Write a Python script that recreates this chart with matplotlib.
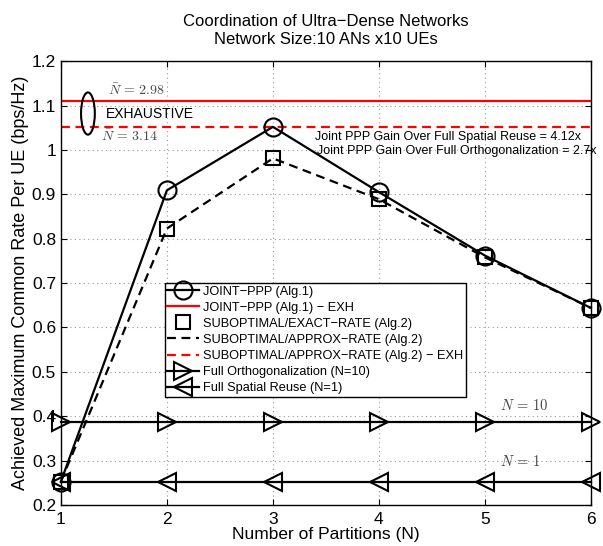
import numpy as np
import matplotlib
matplotlib.use("Agg")
import matplotlib.pyplot as plt
from matplotlib.patches import Ellipse
from matplotlib.ticker import FuncFormatter

plt.rcParams['font.family'] = ['Liberation Sans', 'DejaVu Sans']
plt.rcParams['mathtext.fontset'] = 'cm'

# rates per UE (bps/Hz) against number of partitions
partitions = [1, 2, 3, 4, 5, 6]
joint_ppp = [0.253, 0.909, 1.052, 0.905, 0.762, 0.644]
exact_rate = [0.253, 0.823, 0.981, 0.889, 0.758, 0.644]
approx_rate = [0.253, 0.823, 0.981, 0.889, 0.758, 0.644]
joint_exh = 1.11
approx_exh = 1.052
full_orth = 0.388
full_reuse = 0.253

y_ticks = [0.2, 0.3, 0.4, 0.5, 0.6, 0.7, 0.8, 0.9, 1.0, 1.1, 1.2]

M = u"\u2212"

fig = plt.figure(figsize=(6.03, 5.46), dpi=100)
ax = fig.add_axes([0.101, 0.075, 0.879, 0.813])

x = np.array(partitions)
lw = 1.6

ax.axhline(joint_exh, color='red', lw=lw, label="JOINT" + M + "PPP (Alg.1) " + M + " EXH", zorder=2)
ax.axhline(approx_exh, color='red', lw=lw, ls=(0, (4, 2.5)),
           label="SUBOPTIMAL/APPROX" + M + "RATE (Alg.2) " + M + " EXH", zorder=2)

ax.plot(x, joint_ppp, color='black', lw=lw, marker='o', ms=13, mfc='none', mew=1.5,
        label="JOINT" + M + "PPP (Alg.1)", zorder=4, clip_on=False)
ax.plot(x, exact_rate, ls='none', color='black', marker='s', ms=10, mfc='none', mew=1.5,
        label="SUBOPTIMAL/EXACT" + M + "RATE (Alg.2)", zorder=4, clip_on=False)
ax.plot(x, approx_rate, color='black', lw=lw, ls=(0, (4, 2.5)),
        label="SUBOPTIMAL/APPROX" + M + "RATE (Alg.2)", zorder=3)
ax.plot(x, [full_orth] * len(x), color='black', lw=lw, marker='>', ms=13, mfc='none', mew=1.5,
        label="Full Orthogonalization (N=10)", zorder=3, clip_on=False)
ax.plot(x, [full_reuse] * len(x), color='black', lw=lw, marker='<', ms=13, mfc='none', mew=1.5,
        label="Full Spatial Reuse (N=1)", zorder=3, clip_on=False)

hs, ls = ax.get_legend_handles_labels()
order = [2, 0, 3, 4, 1, 5, 6]
leg = ax.legend([hs[i] for i in order], [ls[i] for i in order], loc='upper left',
                bbox_to_anchor=(0.196, 0.5), borderaxespad=0, fontsize=9.2,
                fancybox=False, framealpha=1, edgecolor='black', handlelength=2.5,
                labelspacing=0.32, borderpad=0.2, handletextpad=0.3)
leg.get_frame().set_linewidth(1.0)
leg.set_zorder(6)

# exhaustive-search annotations
ax.add_patch(Ellipse((1.255, 1.082), 0.13, 0.095, fill=False, ec='black', lw=1.5, zorder=5))
ax.text(1.42, 1.082, "EXHAUSTIVE", fontsize=10, va='center', ha='left')
ax.text(1.44, 1.135, r"$\bar{N}\,=\,2.98$", fontsize=10, color='#444444', va='center')
ax.text(1.38, 1.030, r"$\bar{N}\,=\,3.14$", fontsize=10, color='#444444', va='center')
ax.text(3.40, 1.030, "Joint PPP Gain Over Full Spatial Reuse = 4.12x", fontsize=9, va='center')
ax.text(3.42, 0.998, "Joint PPP Gain Over Full Orthogonalization = 2.7x", fontsize=9, va='center')
ax.text(5.14, 0.425, r"$N\,=\,10$", fontsize=10.5, color='#444444', va='center')
ax.text(5.14, 0.297, r"$N\,=\,1$", fontsize=10.5, color='#444444', va='center')

ax.set_xlim(1, 6)
ax.set_ylim(0.2, 1.2)
ax.set_xticks(partitions)
ax.set_yticks(y_ticks)
ax.yaxis.set_major_formatter(FuncFormatter(lambda v, p: ("%g" % round(v, 1))))
ax.tick_params(direction='in', top=True, right=True, labelsize=12.5, length=4)
ax.tick_params(axis='x', pad=5)
ax.grid(True, ls=(0, (1, 3)), color='#999999', lw=0.8)
for s in ax.spines.values():
    s.set_linewidth(1.0)

ax.set_xlabel("Number of Partitions (N)", fontsize=12.5, labelpad=0)
ax.set_ylabel("Achieved Maximum Common Rate Per UE (bps/Hz)", fontsize=13, labelpad=2)
ax.set_title("Coordination of Ultra" + M + "Dense Networks\nNetwork Size:10 ANs x10 UEs",
             fontsize=12, pad=12, linespacing=1.3)

fig.savefig("out.png", dpi=100)
